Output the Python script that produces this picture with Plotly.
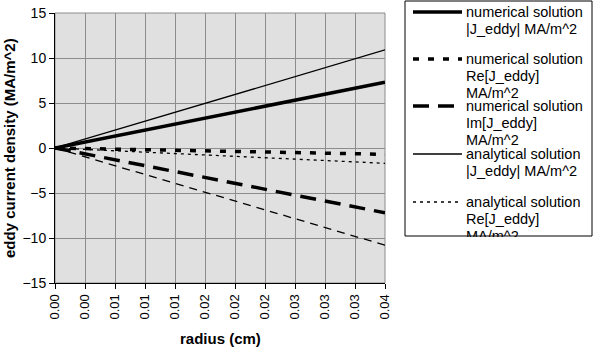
import plotly.graph_objects as go

# ---- data ----
radius_labels = ["0.00", "0.00", "0.01", "0.01", "0.01", "0.02",
                 "0.02", "0.02", "0.03", "0.03", "0.03", "0.04"]
num_abs = [0.0, 0.66, 1.33, 1.99, 2.65, 3.32, 3.98, 4.65, 5.31, 5.97, 6.64, 7.3]
num_re = [0.0, -0.06, -0.13, -0.19, -0.25, -0.32, -0.38, -0.45, -0.51, -0.57, -0.64, -0.7]
num_im = [0.0, -0.66, -1.31, -1.97, -2.62, -3.28, -3.93, -4.59, -5.24, -5.9, -6.55, -7.2]
ana_abs = [0.0, 0.99, 1.98, 2.97, 3.96, 4.95, 5.95, 6.94, 7.93, 8.92, 9.91, 10.9]
ana_re = [0.0, -0.15, -0.31, -0.46, -0.62, -0.77, -0.93, -1.08, -1.24, -1.39, -1.55, -1.7]
ana_im = [0.0, -0.98, -1.96, -2.95, -3.93, -4.91, -5.89, -6.87, -7.85, -8.84, -9.82, -10.8]

series_names = [
    "numerical solution |J_eddy| MA/m^2",
    "numerical solution Re[J_eddy] MA/m^2",
    "numerical solution Im[J_eddy] MA/m^2",
    "analytical solution |J_eddy| MA/m^2",
    "analytical solution Re[J_eddy] MA/m^2",
    "analytical solution Im[J_eddy] MA/m^2",
]
series_values = [num_abs, num_re, num_im, ana_abs, ana_re, ana_im]

# ---- styles ----
styles = [
    dict(width=3.5, dash="solid"),
    dict(width=3.5, dash="6px,9px"),
    dict(width=3.5, dash="16px,9px"),
    dict(width=1.3, dash="solid"),
    dict(width=1.3, dash="3px,4px"),
    dict(width=1.3, dash="8px,6px"),
]

W, H = 594, 358
L, R, T, B = 55, 385, 13, 283


def px_x(px):
    return (px - L) / (R - L)


def px_y(py):
    return (B - py) / (B - T)


x_idx = list(range(len(radius_labels)))

fig = go.Figure()
for name, vals, st in zip(series_names, series_values, styles):
    fig.add_trace(go.Scatter(x=x_idx, y=vals, mode="lines", name=name,
                             line=dict(color="black", width=st["width"], dash=st["dash"]),
                             showlegend=False))

font_family = "Liberation Sans, Arial, sans-serif"

fig.update_layout(
    width=W, height=H,
    margin=dict(l=L, r=W - R, t=T, b=H - B, autoexpand=False),
    paper_bgcolor="white",
    plot_bgcolor="#e0e0e0",
    font=dict(family=font_family, size=13, color="black"),
    xaxis=dict(
        range=[0, len(radius_labels) - 1],
        tickmode="array", tickvals=x_idx, ticktext=radius_labels,
        tickangle=-90, ticks="outside", ticklen=5, tickcolor="black",
        showgrid=True, gridcolor="#8c8c8c", gridwidth=1,
        showline=True, linecolor="black", linewidth=1,
        zeroline=False, tickfont=dict(size=13), automargin=False,
    ),
    yaxis=dict(
        range=[-15, 15], dtick=5, tick0=0,
        ticks="outside", ticklen=5, tickcolor="black",
        showgrid=True, gridcolor="#8c8c8c", gridwidth=1,
        showline=True, linecolor="black", linewidth=1,
        zeroline=False, tickfont=dict(size=14), automargin=False,
    ),
)

shapes = []
annotations = []

# plot area border (top/right)
shapes.append(dict(type="rect", xref="paper", yref="paper", x0=0, x1=1, y0=0, y1=1,
                   line=dict(color="#8c8c8c", width=1), layer="below"))

# axis titles
annotations.append(dict(text="<b>radius (cm)</b>", xref="paper", yref="paper",
                        x=px_x(220), y=px_y(338), showarrow=False,
                        font=dict(size=15), xanchor="center", yanchor="middle"))
annotations.append(dict(text="<b>eddy current density (MA/m^2)</b>", xref="paper", yref="paper",
                        x=px_x(9), y=px_y(148), showarrow=False, textangle=-90,
                        font=dict(size=15), xanchor="center", yanchor="middle"))

# legend box
box_bottom = 236
shapes.append(dict(type="rect", xref="paper", yref="paper",
                   x0=px_x(405), x1=px_x(592), y0=px_y(box_bottom), y1=px_y(1),
                   line=dict(color="black", width=1), fillcolor="white", layer="above"))

legend_rows = [
    (12, ["numerical solution", "|J_eddy| MA/m^2"]),
    (59, ["numerical solution", "Re[J_eddy]", "MA/m^2"]),
    (106, ["numerical solution", "Im[J_eddy]", "MA/m^2"]),
    (154, ["analytical solution", "|J_eddy| MA/m^2"]),
    (202, ["analytical solution", "Re[J_eddy]", "MA/m^2"]),
]
for (ly, lines), st in zip(legend_rows, styles):
    shapes.append(dict(type="line", xref="paper", yref="paper",
                       x0=px_x(413), x1=px_x(462), y0=px_y(ly), y1=px_y(ly),
                       line=dict(color="black", width=st["width"], dash=st["dash"]),
                       layer="above"))
    for k, txt in enumerate(lines):
        annotations.append(dict(text=txt, xref="paper", yref="paper",
                                x=px_x(465), y=px_y(ly + 17 * k), showarrow=False,
                                xanchor="left", yanchor="middle",
                                height=16, borderpad=0, valign="middle",
                                font=dict(size=14.5)))

# clip overflowing legend text below the box
annotations.append(dict(text=" ", xref="paper", yref="paper",
                        x=px_x(406), y=px_y(box_bottom + 0.6), showarrow=False,
                        xanchor="left", yanchor="top", width=190, height=16,
                        bgcolor="white", borderpad=0, borderwidth=0))

fig.update_layout(shapes=shapes, annotations=annotations)

fig.write_html("out.html",
               config={"displayModeBar": False},
               post_script="document.body.style.margin='0px';document.body.style.overflow='hidden';")
